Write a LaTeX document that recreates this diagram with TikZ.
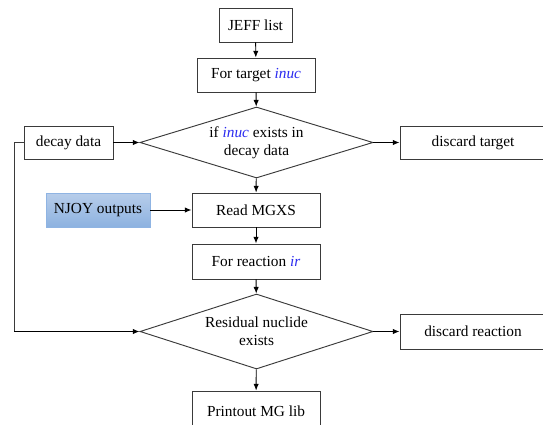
\documentclass[tikz,border=0pt]{standalone}
\usepackage{fontspec}
\setmainfont{Liberation Serif}
\usetikzlibrary{shapes.geometric,arrows.meta}
\definecolor{edge}{HTML}{3A3A3A}
\definecolor{var}{HTML}{2B2BF0}
\definecolor{njoytop}{HTML}{B7CDEA}
\definecolor{njoybot}{HTML}{8DB2E0}
\definecolor{njoyline}{HTML}{8FB4E3}
\newcommand{\vname}[1]{\textcolor{var}{\textit{#1}}}
\tikzset{
  procbox/.style={draw=edge, line width=0.7pt, rectangle, inner sep=0pt, font=\fontsize{11.5}{13.5}\selectfont, align=center},
  decision/.style={draw=edge, line width=0.7pt, diamond, aspect=3.2, inner sep=0pt, font=\fontsize{11.5}{13.5}\selectfont, align=center},
  inputbox/.style={draw=njoyline, line width=0.7pt, rectangle, inner sep=0pt, top color=njoytop, bottom color=njoybot, font=\fontsize{11.5}{13.5}\selectfont},
  flow/.style={draw=black, line width=0.7pt, -{Latex[length=5pt,width=4pt]}},
  link/.style={draw=edge, line width=0.7pt}
}
\begin{document}
\begin{tikzpicture}[x=0.75pt, y=0.75pt]
\useasboundingbox (0,-425) rectangle (543,0);
\clip (0,-425) rectangle (543,0);
\fill[white] (0,-425) rectangle (543,0);

% main column
\node[procbox, minimum width=73*0.75pt, minimum height=34*0.75pt] (jeff) at (255.5,-25) {JEFF list};
\node[procbox, minimum width=118*0.75pt, minimum height=34*0.75pt] (target) at (256,-75) {For target \vname{inuc}};
\node[decision, minimum width=233*0.75pt, minimum height=71*0.75pt] (exists) at (256.5,-142.5) {if \vname{inuc} exists in\\decay data};
\node[procbox, minimum width=128*0.75pt, minimum height=34*0.75pt] (read) at (256,-210) {Read MGXS};
\node[procbox, minimum width=128*0.75pt, minimum height=35*0.75pt] (reaction) at (256,-261.5) {For reaction \vname{ir}};
\node[decision, minimum width=233*0.75pt, minimum height=75*0.75pt] (residual) at (256.5,-331.5) {Residual nuclide\\exists};
\node[procbox, minimum width=128*0.75pt, minimum height=40*0.75pt] (print) at (256,-411) {Printout MG lib};

% side boxes
\node[procbox, minimum width=89*0.75pt, minimum height=33*0.75pt] (decay) at (68.5,-142.5) {decay data};
\node[procbox, minimum width=146*0.75pt, minimum height=33*0.75pt] (distarget) at (473,-142.5) {discard target};
\node[inputbox, minimum width=104*0.75pt, minimum height=34*0.75pt] (njoy) at (98,-210) {NJOY outputs};
\node[procbox, minimum width=146*0.75pt, minimum height=35*0.75pt] (disreact) at (473,-331.5) {discard reaction};

% connectors
\coordinate (bendtop) at (14,-142.5);
\coordinate (bendbot) at (14,-331.5);
\draw[flow] (jeff) -- (target);
\draw[flow] (target) -- (exists);
\draw[flow] (exists) -- (read);
\draw[flow] (read) -- (reaction);
\draw[flow] (reaction) -- (residual);
\draw[flow] (residual) -- (print);
\draw[flow] (decay) -- (exists);
\draw[flow] (exists) -- (distarget);
\draw[flow] (njoy) -- (read);
\draw[flow] (residual) -- (disreact);
\draw[link] (decay.west) -- (bendtop) -- (bendbot);
\draw[flow] (bendbot) -- (residual.west);
\end{tikzpicture}
\end{document}
